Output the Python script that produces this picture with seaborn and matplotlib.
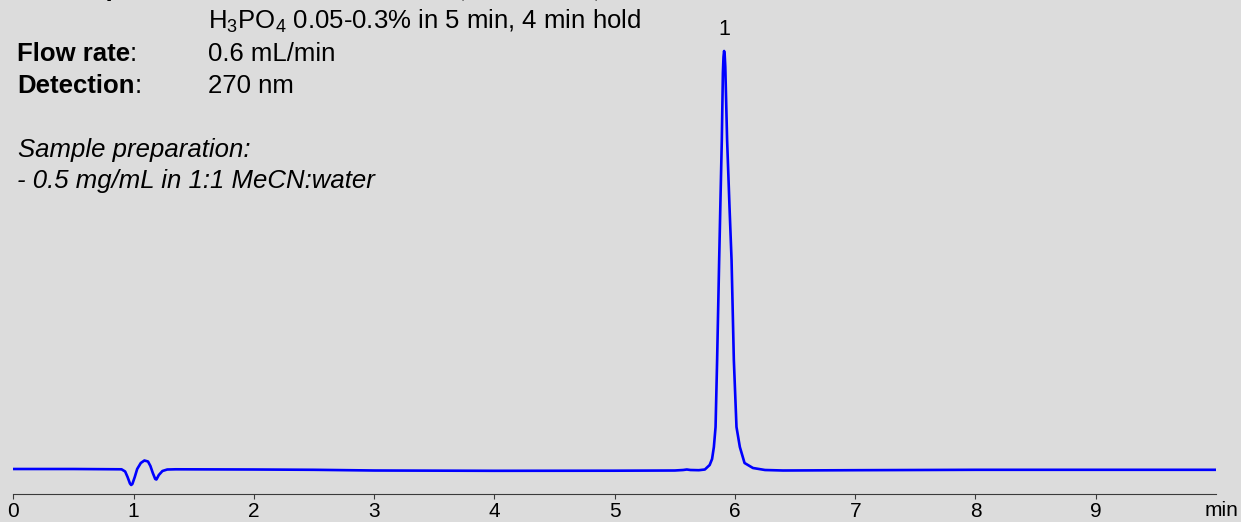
import matplotlib
matplotlib.use('Agg')
import matplotlib.pyplot as plt
import pandas as pd
import seaborn as sns

# chromatogram trace (time in min, signal in arbitrary units)
time_min = [0.00, 0.50, 0.90, 0.93, 0.95, 0.97, 0.98, 0.99, 1.01, 1.03,
            1.06, 1.09, 1.12, 1.14, 1.16, 1.18, 1.19, 1.21, 1.24, 1.28,
            1.35, 2.00, 2.50, 3.00, 4.00, 5.00, 5.50, 5.57, 5.60, 5.63,
            5.70, 5.75, 5.79, 5.81, 5.825, 5.839, 5.852, 5.869, 5.88, 5.891,
            5.90, 5.905, 5.91, 5.915, 5.92, 5.935, 5.955, 5.972, 5.991, 6.013,
            6.041, 6.08, 6.15, 6.25, 6.40, 7.00, 8.00, 9.00, 10.00]
signal = [0.0, 0.0, -0.3, -2.5, -8.0, -14.5, -16.0, -15.0, -8.0, 0.0,
          6.0, 8.5, 7.5, 3.0, -4.0, -10.0, -10.5, -6.0, -2.0, -0.5,
          -0.3, -0.5, -0.8, -1.5, -1.8, -1.7, -1.5, -1.0, -0.5, -1.0,
          -1.2, -0.5, 4.0, 10.0, 22.0, 42.0, 109.0, 209.0, 270.0, 329.0,
          396.0, 412.0, 418.0, 414.0, 402.0, 329.0, 262.0, 209.0, 109.0, 42.0,
          22.0, 6.0, 1.0, -1.0, -1.5, -1.2, -0.8, -0.8, -0.8]

peak_times = [5.91]
peak_heights = [418.0]
peak_labels = ['1']

x_ticks = [0, 1, 2, 3, 4, 5, 6, 7, 8, 9]

method_labels = ['Mobile phase', 'Flow rate', 'Detection']
method_values = ['MeCN 5-50% in 5 min, 4 min hold,', '0.6 mL/min', '270 nm']
mobile_phase_line2 = r'H$_3$PO$_4$ 0.05-0.3% in 5 min, 4 min hold'
sample_prep = ['Sample preparation:', '- 0.5 mg/mL in 1:1 MeCN:water']

sns.set_theme(style='white')
plt.rcParams['font.family'] = ['Liberation Sans', 'DejaVu Sans']
plt.rcParams['mathtext.fontset'] = 'custom'
plt.rcParams['mathtext.rm'] = 'Liberation Sans'
plt.rcParams['mathtext.it'] = 'Liberation Sans:italic'

W, H = 1241, 522
bg = '#dcdcdc'
fig = plt.figure(figsize=(W / 100, H / 100), dpi=100, facecolor=bg)

# axis: 0 min at x=13.3 px, 10 min at x=1216 px, axis line at y=494.3 px
ax = fig.add_axes([13.3 / W, (H - 494.3) / H, 1202.7 / W, 494.3 / H])
ax.set_facecolor('none')

df = pd.DataFrame({'time': time_min, 'signal': signal})
sns.lineplot(data=df, x='time', y='signal', ax=ax, color='#0000ff',
             linewidth=1.9, estimator=None, sort=False)

for t, h, lab in zip(peak_times, peak_heights, peak_labels):
    ax.text(t, h + 16, lab, ha='center', va='baseline', fontsize=15.5, color='black')

ax.set_xlim(0, 10)
ax.set_ylim(-25.3, 469)
ax.set_xticks(x_ticks)
ax.set_xticklabels([str(v) for v in x_ticks])
ax.set_yticks([])
ax.set_xlabel('')
ax.set_ylabel('')
for side in ['top', 'right', 'left']:
    ax.spines[side].set_visible(False)
ax.spines['bottom'].set_color('#3a3a3a')
ax.spines['bottom'].set_linewidth(0.8)
ax.tick_params(axis='x', direction='out', length=3.6, width=0.8, color='#3a3a3a',
               pad=2, labelsize=15, labelcolor='black', bottom=True)

fig.text(1221 / W, 1 - 516 / H, 'min', ha='center', va='baseline', fontsize=15, color='black')

# method text block (pixel positions converted to figure fraction)
def put(x, y, s, **kw):
    return fig.text(x / W, 1 - y / H, s, va='baseline', fontsize=18.5, color='black', **kw)

renderer = fig.canvas.get_renderer()
label_y = [-3.7, 60.7, 92.7]
for lab, val, ly in zip(method_labels, method_values, label_y):
    t = put(17, ly, lab, fontweight='bold')
    x_end = t.get_window_extent(renderer).x1
    put(x_end, ly, ':')
    put(208, ly, val)
put(208, 28.3, mobile_phase_line2)
put(18, 156.7, sample_prep[0], fontstyle='italic')
put(17, 188.3, sample_prep[1], fontstyle='italic')

fig.savefig('out.png', dpi=100, facecolor=bg)
